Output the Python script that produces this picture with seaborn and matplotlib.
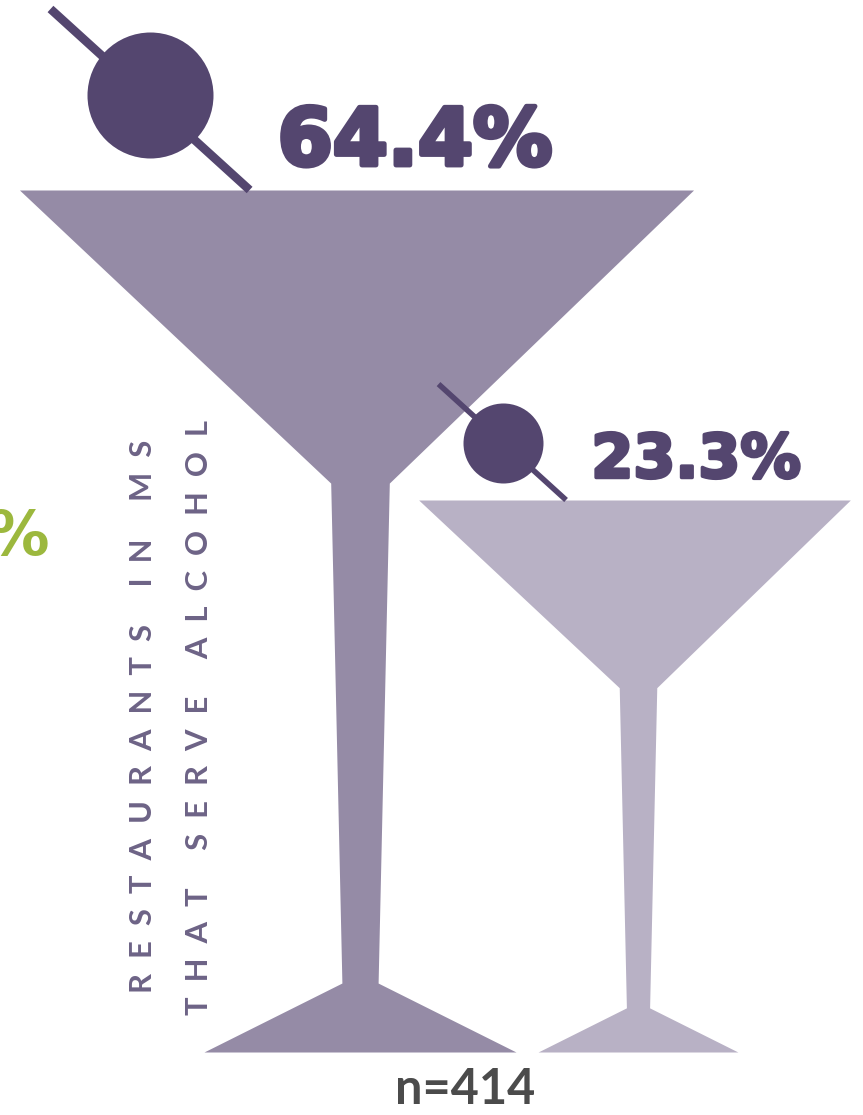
import matplotlib
matplotlib.use('Agg')
import matplotlib.pyplot as plt
import matplotlib.patheffects as pe
import pandas as pd
import seaborn as sns

# values printed on the glasses
labels = ['64.4%', '23.3%']
glass_height = [862, 552]
rim_center = [356.5, 634.5]
foot_center = [360, 638]
glass_color = ['#958ba6', '#b8b1c5']

# glass outline, as fractions of the glass height
profile_depth = [0, 0.34, 0.92, 1]
profile_halfwidth = [0.391, 0.034, 0.021, 0.181]

sample_text = 'n=414'
side_lines = ['R  E  S  T  A  U  R  A  N  T  S     I  N     M  S',
              'T  H  A  T     S  E  R  V  E     A  L  C  O  H  O  L']

dark = '#54466f'
base_y = 1052
olive_x = [150, 503]
olive_y = [95, 443]
olive_r = [63, 40]

sns.set_theme(style='white')
plt.rcParams['font.family'] = ['Lato', 'DejaVu Sans']

fig, ax = plt.subplots(figsize=(8.63, 11.15), dpi=100)
ax.set_position([0, 0, 1, 1])
ax.axis('off')

for h, rc, fc, col in zip(glass_height, rim_center, foot_center, glass_color):
    rim = base_y - h
    ys = [rim + d * h for d in profile_depth]
    cs = [rc, fc, fc, fc]
    left = [c - w * h for c, w in zip(cs, profile_halfwidth)]
    right = [c + w * h for c, w in zip(cs, profile_halfwidth)]
    ax.fill_betweenx(ys, left, right, color=col, lw=0, zorder=1)

for h, c, ox, oy, r in zip(glass_height, rim_center, olive_x, olive_y, olive_r):
    rim = base_y - h
    stick = pd.DataFrame({'x': [c - 0.355 * h, c - 0.124 * h], 'y': [rim - 0.21 * h, rim]})
    sns.lineplot(data=stick, x='x', y='y', color=dark, lw=0.0072 * h, sort=False,
                 estimator=None, ax=ax, zorder=2, solid_capstyle='butt')
    olive = pd.DataFrame({'x': [ox], 'y': [oy]})
    sns.scatterplot(data=olive, x='x', y='y', color=dark, s=(2 * r * 0.72) ** 2, linewidth=0,
                    ax=ax, zorder=3, legend=False)
ax.set_xlabel('')
ax.set_ylabel('')
ax.set_xlim(0, 863)
ax.set_ylim(1115, 0)

ax.text(415, 143, labels[0], color=dark, fontsize=57, fontweight='bold', family='DejaVu Sans',
        ha='center', va='center', path_effects=[pe.withStroke(linewidth=3.5, foreground=dark)])
ax.text(696, 461, labels[1], color=dark, fontsize=43.5, fontweight='bold', family='DejaVu Sans',
        ha='center', va='center', path_effects=[pe.withStroke(linewidth=2.5, foreground=dark)])

# cropped green figure on the left edge
ax.text(50, 538, '%', color='#9cb83e', fontsize=45, fontweight='bold', family='DejaVu Sans',
        ha='right', va='center')

ax.text(143, 993, side_lines[0], color='#6d6386', fontsize=22.3, fontweight='bold',
        rotation=90, ha='center', va='bottom')
ax.text(199, 1015, side_lines[1], color='#6d6386', fontsize=22.3, fontweight='bold',
        rotation=90, ha='center', va='bottom')

ax.text(465, 1090, sample_text, color='#4b4b4b', fontsize=35, fontweight='bold',
        ha='center', va='center')

fig.savefig('out.png', dpi=100)
